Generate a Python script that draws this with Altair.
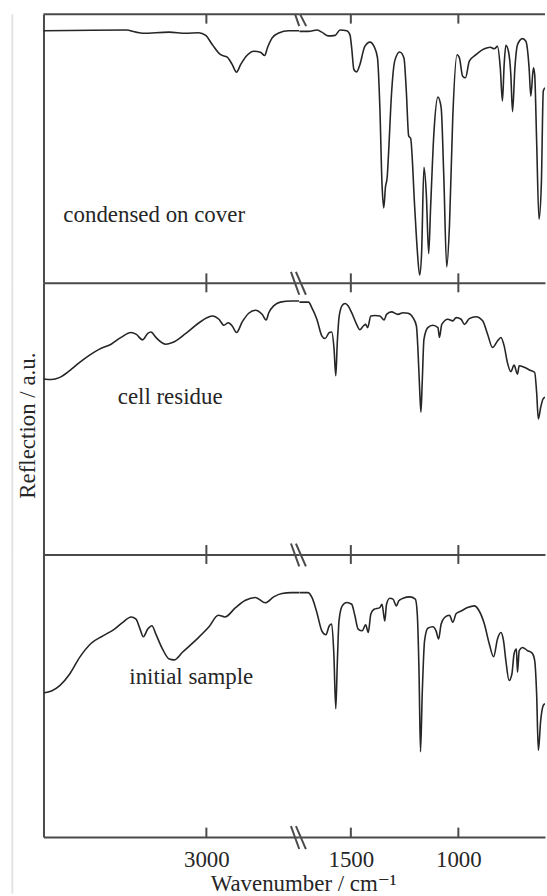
import altair as alt
import pandas as pd

# ---------------- data (wavenumber in cm-1, reflection in a.u. 0-100 per panel) ----------------
cover_hi_wn = [4000, 3493, 3432, 3391, 3230, 3126, 3047, 3004, 2963, 2913, 2872, 2841, 2815, 2790,
               2750, 2709, 2668, 2642, 2624, 2597, 2556, 2495, 2430]
cover_hi_r = [93.8, 94.1, 93.3, 92.9, 93.3, 92.9, 93.1, 92.1, 88.6, 84.9, 84.0, 81.2, 78.4, 81.2,
              84.7, 86.2, 85.8, 84.6, 87.7, 91.1, 93.0, 93.8, 93.8]

cover_lo_wn = [1740, 1697, 1658, 1635, 1604, 1573, 1550, 1519, 1504, 1496, 1486, 1473, 1458, 1435,
               1411, 1392, 1376, 1365, 1355, 1347, 1339, 1331, 1324, 1311, 1296, 1273, 1253, 1242,
               1231, 1222, 1203, 1191, 1180, 1171, 1160, 1149, 1138, 1129, 1114, 1095, 1080, 1068,
               1054, 1041, 1026, 1006, 995, 980, 967, 949, 918, 879, 852, 833, 818, 805, 795, 787,
               779, 767, 756, 748, 737, 725, 702, 686, 671, 663, 651, 645, 636, 625, 614, 605, 597]
cover_lo_r = [93.6, 93.6, 94.1, 93.3, 91.9, 92.1, 94.1, 93.8, 92.3, 87.4, 79.4, 78.5, 81.2, 88.0,
              89.6, 88.0, 83.7, 65.2, 36.8, 27.9, 35.6, 39.3, 49.1, 70.1, 82.5, 85.9, 83.7, 71.4,
              54.7, 53.8, 28.1, 12.1, 2.9, 10.9, 43.0, 33.1, 10.9, 28.1, 55.3, 69.1, 65.2, 40.5,
              5.9, 22.0, 61.5, 84.9, 83.7, 76.9, 76.3, 82.5, 84.9, 87.1, 87.7, 87.1, 88.0, 80.0,
              67.7, 81.2, 88.4, 86.2, 77.5, 63.7, 80.0, 88.6, 90.9, 89.9, 80.0, 69.5, 80.0, 77.5,
              52.9, 23.7, 36.8, 71.4, 72.6]

res_hi_wn = [4000, 3951, 3900, 3839, 3778, 3717, 3656, 3585, 3524, 3462, 3432, 3391, 3360, 3340,
             3310, 3249, 3208, 3126, 3045, 2994, 2963, 2923, 2892, 2866, 2841, 2815, 2780, 2740,
             2699, 2658, 2633, 2617, 2587, 2546, 2479, 2430]
res_hi_r = [64.6, 64.4, 65.2, 67.7, 70.7, 73.4, 75.6, 77.4, 79.9, 81.7, 81.1, 79.0, 81.4, 81.9,
            79.9, 77.4, 78.0, 81.4, 85.3, 87.2, 87.8, 86.6, 84.4, 85.3, 84.1, 81.7, 85.6, 88.8,
            89.9, 88.4, 86.3, 89.0, 91.5, 92.9, 93.3, 93.3]

res_lo_wn = [1740, 1697, 1681, 1658, 1635, 1620, 1600, 1589, 1578, 1570, 1563, 1554, 1540, 1527,
             1512, 1496, 1473, 1458, 1442, 1431, 1422, 1407, 1388, 1365, 1345, 1334, 1311, 1281,
             1257, 1234, 1211, 1195, 1188, 1180, 1174, 1168, 1160, 1142, 1119, 1095, 1088, 1077,
             1049, 1026, 1010, 987, 972, 949, 918, 887, 864, 841, 818, 802, 787, 772, 756, 741,
             725, 717, 694, 663, 645, 636, 628, 617, 606, 597]
res_lo_r = [92.9, 92.9, 90.8, 86.6, 80.5, 79.5, 81.7, 81.9, 75.6, 65.8, 78.0, 87.8, 91.7, 92.4,
            91.5, 89.0, 84.7, 82.7, 84.1, 84.7, 83.5, 87.8, 88.0, 87.8, 86.3, 88.4, 89.3, 88.4,
            89.0, 88.8, 87.2, 84.1, 75.6, 60.9, 52.4, 63.4, 79.2, 83.5, 84.4, 83.5, 79.9, 84.7,
            86.6, 86.0, 87.2, 86.6, 84.7, 86.8, 87.5, 86.0, 81.1, 76.2, 78.6, 79.9, 76.8, 70.7,
            67.3, 69.7, 66.4, 69.5, 68.9, 67.7, 67.0, 59.7, 49.9, 54.2, 57.3, 57.9]

ini_hi_wn = [4000, 3951, 3900, 3839, 3778, 3707, 3635, 3564, 3513, 3462, 3432, 3407, 3387, 3360,
             3334, 3310, 3269, 3228, 3198, 3147, 3065, 2984, 2927, 2886, 2821, 2760, 2699, 2638,
             2587, 2536, 2479, 2430]
ini_hi_r = [51.0, 51.7, 53.6, 57.7, 63.6, 68.6, 71.2, 73.6, 76.0, 77.9, 77.1, 73.6, 70.9, 73.6,
            74.8, 71.8, 66.5, 63.0, 62.7, 65.4, 69.7, 74.4, 78.5, 77.9, 81.2, 83.8, 84.8, 82.9,
            85.0, 86.2, 86.5, 86.5]

ini_lo_wn = [1740, 1700, 1681, 1658, 1635, 1616, 1600, 1589, 1579, 1570, 1563, 1555, 1540, 1519,
             1496, 1481, 1466, 1447, 1431, 1419, 1407, 1392, 1365, 1355, 1342, 1334, 1319, 1304,
             1288, 1277, 1257, 1226, 1200, 1191, 1183, 1176, 1168, 1157, 1142, 1119, 1103, 1092,
             1080, 1064, 1041, 1026, 1010, 987, 957, 926, 903, 879, 856, 836, 818, 802, 790, 779,
             764, 751, 741, 730, 725, 717, 702, 679, 656, 645, 636, 628, 617, 605, 597]
ini_lo_r = [86.5, 86.5, 84.8, 79.5, 73.0, 71.6, 74.8, 75.4, 64.8, 45.4, 61.3, 76.5, 81.8, 83.0,
            82.4, 78.3, 73.6, 73.0, 75.1, 72.4, 78.9, 80.6, 81.2, 82.4, 76.5, 82.4, 84.5, 84.2,
            81.8, 83.6, 84.5, 85.0, 84.2, 78.9, 58.9, 30.2, 50.7, 69.5, 73.9, 74.4, 72.8, 70.1,
            75.4, 77.7, 78.5, 76.0, 79.1, 80.0, 81.2, 81.8, 80.0, 75.4, 68.3, 63.8, 70.1, 72.4,
            69.5, 62.4, 55.4, 57.7, 64.8, 66.5, 58.3, 66.0, 67.1, 66.0, 65.0, 62.4, 50.7, 30.7,
            41.3, 46.6, 47.2]

panel_labels = ["condensed on cover", "cell residue", "initial sample"]
label_wn = [3878, 3544, 3473]
label_r = [22.6, 55.4, 54.2]

tick_hi = [3000]
tick_lo = [1500, 1000]
domain_hi = [2430, 4000]
domain_lo = [597, 1740]

# ---------------- style / layout ----------------
FONT = "Liberation Serif, Times New Roman, DejaVu Serif, serif"
INK = "#262626"
FRAME = "#4a4a4a"
FS = 23
W = {"hi": 257, "lo": 247}
HEIGHTS = [270, 273, 284]
TICK = 9.5

spectra = [
    (cover_hi_wn, cover_hi_r, cover_lo_wn, cover_lo_r),
    (res_hi_wn, res_hi_r, res_lo_wn, res_lo_r),
    (ini_hi_wn, ini_hi_r, ini_lo_wn, ini_lo_r),
]

one = pd.DataFrame({"k": [0]})


def seg(x1, y1, x2, y2, color=FRAME, sw=2):
    return alt.Chart(one).mark_rule(color=color, strokeWidth=sw).encode(
        x=alt.value(x1), y=alt.value(y1), x2=alt.value(x2), y2=alt.value(y2))


def panel(row, side):
    hw, hr, lw, lr = spectra[row]
    wn, r = (hw, hr) if side == "hi" else (lw, lr)
    h = HEIGHTS[row]
    w = W[side]
    last = row == 2
    dom = domain_hi if side == "hi" else domain_lo
    ticks = tick_hi if side == "hi" else tick_lo

    ax = dict(domain=True, domainColor=FRAME, domainWidth=2, ticks=False, tickSize=0, grid=False)
    if last:
        ax.update(values=ticks, labels=True, labelFont=FONT, labelFontSize=FS, labelColor=INK,
                  labelPadding=30, labelBaseline="alphabetic", format="d", labelFlush=False)
        if side == "lo":
            ax.update(titleFont=FONT, titleFontSize=FS, titleFontWeight="normal", titleColor=INK,
                      titleX=4, titleY=54, titleAlign="center", titleBaseline="alphabetic")
    else:
        ax.update(labels=False)
    xtitle = "Wavenumber / cm\u207b\u00b9" if (last and side == "lo") else None
    X = alt.X("wn:Q", scale=alt.Scale(domain=dom, reverse=True, nice=False, zero=False),
              axis=alt.Axis(**ax), title=xtitle)

    if side == "hi":
        yax = dict(domain=True, domainColor=FRAME, domainWidth=2, ticks=False, labels=False, grid=False)
        if row == 1:
            yax.update(titleFont=FONT, titleFontSize=FS, titleFontWeight="normal", titleColor=INK,
                       titleX=-9, titleY=143, titleAngle=270, titleAlign="center",
                       titleBaseline="alphabetic")
        Y = alt.Y("r:Q", scale=alt.Scale(domain=[0, 100], nice=False, zero=False),
                  axis=alt.Axis(**yax), title="Reflection / a.u." if row == 1 else None)
    else:
        Y = alt.Y("r:Q", scale=alt.Scale(domain=[0, 100], nice=False, zero=False), axis=None)

    df = pd.DataFrame({"wn": wn, "r": r})
    layers = [
        alt.Chart(df).mark_line(color=INK, strokeWidth=1.6, interpolate="monotone", clip=True)
        .encode(x=X, y=Y)
    ]
    tdf = pd.DataFrame({"wn": ticks})
    layers.append(alt.Chart(tdf).mark_rule(color=FRAME, strokeWidth=2).encode(
        x=X, y=alt.value(h - TICK), y2=alt.value(h)))
    layers.append(alt.Chart(tdf).mark_rule(color=FRAME, strokeWidth=2).encode(
        x=X, y=alt.value(0), y2=alt.value(TICK)))
    if row == 0:
        layers.append(seg(0, 0, w, 0))
    if side == "hi":
        # faint page edge line
        y_bot = h + 57 if last else h
        layers.append(seg(-31.3, 0, -31.3, y_bot, color="#e4e4e4", sw=2))
        # axis break marks
        if row == 0:
            layers.append(seg(w - 4.2, 0, w, 12))
            layers.append(seg(w + 0.8, 0, w + 7, 12))
        layers.append(seg(w - 8.3, h - 11, w, h + 12))
        layers.append(seg(w - 3.3, h - 11, w + 6.7, h + 12))
        ldf = pd.DataFrame({"wn": [label_wn[row]], "r": [label_r[row]], "t": [panel_labels[row]]})
        layers.append(alt.Chart(ldf).mark_text(align="left", baseline="alphabetic", font=FONT,
                                               fontSize=FS, color=INK)
                      .encode(x=X, y=Y, text="t:N"))
    return alt.layer(*layers).properties(width=w, height=h)


panels = [panel(i, s) for i in range(3) for s in ("hi", "lo")]

chart = (
    alt.concat(*panels, columns=2, spacing=0, bounds="flush")
    .properties(padding={"left": 10.7, "top": 10, "right": 0, "bottom": 0}, background="white")
    .configure_view(stroke="transparent")
    .configure_axis(grid=False)
)

chart.save("out.html", embed_options={"renderer": "svg", "actions": False})
